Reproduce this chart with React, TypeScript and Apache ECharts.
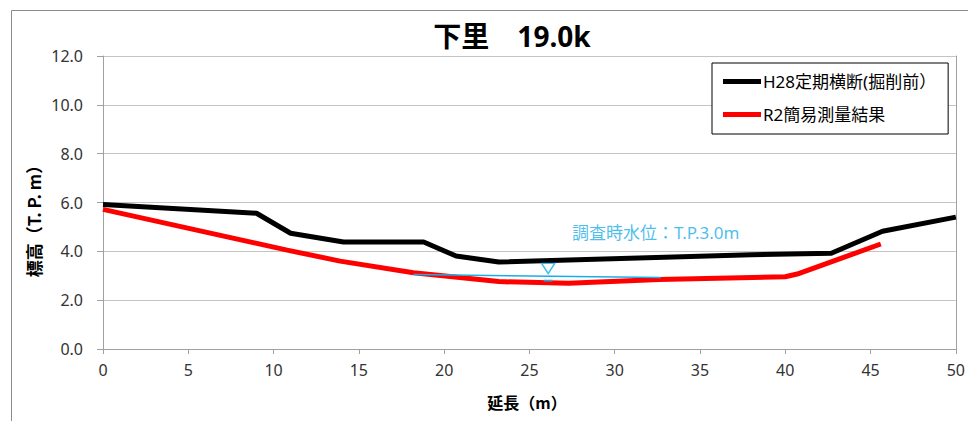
import React, { useEffect, useRef } from "react";
import * as echarts from "echarts";

const titleText = "下里　19.0k";
const yAxisName = "標高（T. P. m）";
const xAxisName = "延長（m）";
const waterLabel = "調査時水位：T.P.3.0m";

const h28Name = "H28定期横断(掘削前）";
const h28X = [0, 9.0, 11.0, 14.1, 18.8, 20.7, 23.2, 38.0, 42.7, 45.7, 50];
const h28Y = [5.92, 5.56, 4.74, 4.38, 4.38, 3.81, 3.56, 3.86, 3.92, 4.82, 5.4];

const r2Name = "R2簡易測量結果";
const r2X = [0, 10.8, 13.9, 18.2, 23.2, 27.3, 32.6, 40.0, 40.7, 45.6];
const r2Y = [5.72, 4.05, 3.6, 3.12, 2.76, 2.69, 2.85, 2.96, 3.07, 4.3];

const waterX = [18.2, 32.7];
const waterY = [3.05, 2.93];
const waterMarkX = 26.1;
const waterMarkY = 3.3;
const waterDashY = 2.8;
const waterLabelX = 32.4;
const waterLabelY = 4.79;

const xTicks = { min: 0, max: 50, interval: 5 };
const yTicks = { min: 0, max: 12, interval: 2 };

const FONT = "'Noto Sans', 'Noto Sans CJK JP', sans-serif";
const CJK = "'Noto Sans CJK JP', 'Noto Sans', sans-serif";
const WATER = "#1AAEE8";

export default function App() {
  const ref = useRef<HTMLDivElement>(null);
  useEffect(() => {
    if (!ref.current) return;
    const chart = echarts.init(ref.current, null, { renderer: "svg" });
    const zip = (xs: number[], ys: number[]) => xs.map((x, i) => [x, ys[i]]);
    chart.setOption({
      animation: false,
      backgroundColor: "#fff",
      grid: { left: 103, right: 11, top: 56, bottom: 72 },
      xAxis: {
        type: "value",
        min: xTicks.min,
        max: xTicks.max,
        interval: xTicks.interval,
        axisLine: { show: true, lineStyle: { color: "#A0A0A0", width: 1 } },
        axisTick: { show: true, length: 5, lineStyle: { color: "#A0A0A0" } },
        splitLine: { show: false },
        axisLabel: { fontSize: 16, color: "#333", fontFamily: FONT, margin: 13 },
      },
      yAxis: [
        {
          type: "value",
          min: yTicks.min,
          max: yTicks.max,
          interval: yTicks.interval,
          axisLine: { show: true, lineStyle: { color: "#A0A0A0", width: 1 } },
          axisTick: { show: true, length: 6, lineStyle: { color: "#A0A0A0" } },
          splitLine: { show: true, lineStyle: { color: "#C4C4C4", width: 1 } },
          axisLabel: {
            fontSize: 16,
            color: "#333",
            fontFamily: FONT,
            margin: 20,
            formatter: (v: number) => v.toFixed(1),
          },
        },
        {
          type: "value",
          position: "right",
          min: yTicks.min,
          max: yTicks.max,
          interval: yTicks.interval,
          axisLine: { show: true, lineStyle: { color: "#A0A0A0", width: 1 } },
          axisTick: { show: false },
          axisLabel: { show: false },
          splitLine: { show: false },
        },
      ],
      legend: {
        orient: "vertical",
        left: 712,
        top: 63,
        width: 237,
        padding: [8, 12, 9, 11],
        itemGap: 12,
        itemWidth: 38,
        itemHeight: 5,
        icon: "rect",
        backgroundColor: "#fff",
        borderColor: "#000",
        borderWidth: 1,
        borderRadius: 0,
        textStyle: { fontSize: 17, color: "#000", fontFamily: FONT, lineHeight: 21, padding: [0, 0, 0, -3] },
        data: [h28Name, r2Name],
      },
      series: [
        {
          name: h28Name,
          type: "line",
          data: zip(h28X, h28Y),
          showSymbol: false,
          symbol: "none",
          lineStyle: { color: "#000", width: 5 },
          itemStyle: { color: "#000" },
          z: 3,
        },
        {
          name: r2Name,
          type: "line",
          data: zip(r2X, r2Y),
          showSymbol: false,
          symbol: "none",
          lineStyle: { color: "#FF0000", width: 5 },
          itemStyle: { color: "#FF0000" },
          z: 3,
        },
        {
          name: "water",
          type: "line",
          data: zip(waterX, waterY),
          showSymbol: false,
          symbol: "none",
          lineStyle: { color: WATER, width: 1.5 },
          z: 4,
        },
        {
          name: "waterMark",
          type: "scatter",
          data: [[waterMarkX, waterMarkY]],
          symbol: "triangle",
          symbolRotate: 180,
          symbolSize: [13, 10],
          itemStyle: { color: "#fff", borderColor: WATER, borderWidth: 1.5 },
          z: 5,
        },
        {
          name: "waterDash",
          type: "scatter",
          data: [[waterMarkX, waterDashY]],
          symbol: "rect",
          symbolSize: [9, 2],
          itemStyle: { color: WATER },
          z: 5,
        },
        {
          name: "waterLabel",
          type: "scatter",
          data: [[waterLabelX, waterLabelY]],
          symbolSize: 0,
          label: {
            show: true,
            position: "inside",
            formatter: waterLabel,
            color: WATER,
            fontSize: 17,
            fontFamily: FONT,
          },
          z: 5,
        },
      ],
      graphic: [
        {
          type: "rect",
          shape: { x: 11.5, y: 10.5, width: 1000, height: 500 },
          style: { fill: "none", stroke: "#8C8C8C", lineWidth: 1 },
          silent: true,
          z: -1,
        },
        {
          type: "text",
          x: 512,
          y: 36,
          style: {
            text: titleText,
            font: `bold 28px ${FONT}`,
            fill: "#000",
            align: "center",
            verticalAlign: "middle",
          },
        },
        {
          type: "text",
          x: 33,
          y: 217,
          rotation: Math.PI / 2,
          style: {
            text: yAxisName,
            font: `bold 17px ${CJK}`,
            fill: "#000",
            align: "center",
            verticalAlign: "middle",
          },
        },
        {
          type: "text",
          x: 527,
          y: 402,
          style: {
            text: xAxisName,
            font: `bold 16px ${CJK}`,
            fill: "#000",
            align: "center",
            verticalAlign: "middle",
          },
        },
      ],
    });
    return () => chart.dispose();
  }, []);
  return (
    <div
      ref={ref}
      style={{ position: "fixed", left: 0, top: 0, width: 968, height: 421 }}
    />
  );
}
